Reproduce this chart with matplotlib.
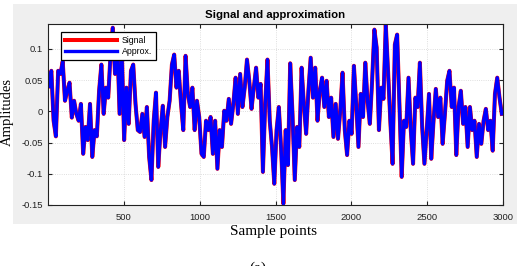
import matplotlib
matplotlib.use("Agg")
import matplotlib.pyplot as plt
import numpy as np
from matplotlib.patches import Rectangle

step = 15
signal = [
    0.040, 0.065, -0.015, -0.040, 0.065, 0.060, 0.080, 0.017, 0.033, 0.046,
    -0.010, 0.017, -0.004, -0.015, 0.012, -0.068, -0.025, -0.046, 0.012, -0.073,
    -0.030, -0.040, 0.033, 0.075, -0.004, 0.038, 0.022, 0.090, 0.134, 0.060,
    0.110, -0.004, 0.095, -0.046,
    0.038, -0.020, 0.065, 0.075, 0.012, -0.030, -0.033, -0.004, -0.041, 0.007,
    -0.073, -0.110, -0.015, 0.030, -0.089, -0.030, 0.009, -0.057, -0.009, 0.017,
    0.075, 0.091, 0.038, 0.065, 0.012, -0.030, 0.089, 0.028, 0.007, 0.038,
    -0.030, 0.017, -0.009, -0.068,
    -0.073, -0.015, -0.030, -0.009, -0.068, -0.015, -0.092, -0.030, -0.057, 0.001,
    -0.015, 0.020, -0.020, 0.012, 0.054, -0.004, 0.060, 0.007, 0.038, 0.083,
    0.049, 0.004, 0.038, 0.070, 0.022, 0.044, -0.097, 0.012, 0.083, -0.015,
    -0.057, -0.116, -0.030, 0.007,
    -0.060, -0.148, -0.030, -0.086, 0.077, -0.004, -0.110, -0.025, -0.057, 0.070,
    0.012, -0.036, 0.033, 0.086, 0.022, 0.070, -0.015, 0.033, 0.054, 0.007,
    0.049, -0.009, 0.022, -0.041, 0.012, -0.044, 0.001, 0.062, -0.030, -0.070,
    -0.015, -0.036, 0.073,
    0.012, -0.057, 0.028, -0.009, 0.078, 0.017, -0.020, 0.049, 0.131, 0.102,
    -0.030, 0.038, 0.020, 0.139, 0.065, -0.015, -0.084, 0.107, 0.123, 0.012,
    -0.105, -0.015, -0.025, 0.054, -0.030, -0.084, 0.022, 0.007, 0.078, -0.025,
    -0.084, -0.030, 0.028,
    -0.076, -0.015, 0.036, -0.009, 0.022, -0.052, -0.004, 0.049, 0.065, 0.007,
    0.038, -0.070, 0.007, 0.033, -0.020, 0.007, -0.057, 0.007, -0.030, -0.015,
    -0.073, -0.020, -0.052, -0.015, 0.004, -0.030, -0.015, -0.063, 0.028, 0.054,
    0.022, -0.004,
]
approx = signal
samples = [step * i + 7 for i in range(len(signal))]

xticks = [500, 1000, 1500, 2000, 2500, 3000]
yticks = [-0.15, -0.1, -0.05, 0, 0.05, 0.1]
yticklabels = ["-0.15", "-0.1", "-0.05", "0", "0.05", "0.1"]

W, H = 517, 266
fig = plt.figure(figsize=(W / 100, H / 100), dpi=100)
fig.patch.set_facecolor("white")
bg = Rectangle((13 / W, 1 - 224 / H), 1 - 13 / W, (224 - 4) / H,
               transform=fig.transFigure, facecolor="#efefef",
               edgecolor="none", zorder=-10)
fig.patches.append(bg)

ax = fig.add_axes([48 / W, 1 - 205 / H, (503 - 48) / W, (205 - 24) / H])
ax.set_zorder(5)
ax.set_facecolor("white")
ax.plot(samples, signal, color="#ff0000", lw=2.9, label="Signal")
ax.plot(samples, approx, color="#0000ff", lw=2.4, label="Approx.")

ax.set_xlim(0, 3000)
ax.set_ylim(-0.15, 0.14)
ax.set_xticks(xticks)
ax.set_xticklabels([str(t) for t in xticks])
ax.set_yticks(yticks)
ax.set_yticklabels(yticklabels)
ax.tick_params(direction="in", length=3, width=0.8, labelsize=6.8,
               colors="#222222", top=True, right=True)
ax.tick_params(axis="x", pad=6)
for lab in ax.get_xticklabels() + ax.get_yticklabels():
    lab.set_fontfamily("Liberation Sans")
ax.grid(True, color="#d4d4d4", linestyle=":", linewidth=0.6)
for s in ax.spines.values():
    s.set_linewidth(0.8)
    s.set_color("#222222")

ax.set_title("Signal and approximation", fontsize=8.2, fontweight="bold",
             family="Liberation Sans", pad=4)

leg = ax.legend(loc="upper left", bbox_to_anchor=(0.028, 0.956),
                borderaxespad=0, handlelength=6.0,
                fancybox=False, framealpha=1, edgecolor="black",
                prop={"family": "Liberation Sans", "size": 6.3},
                borderpad=0.45, labelspacing=0.25, handletextpad=0.5)
leg.get_frame().set_linewidth(0.9)

fig.text(273 / W, 1 - 232 / H, "Sample points", family="Liberation Serif",
         fontsize=11, ha="center", va="center", zorder=6)
fig.text(7 / W, 1 - 112 / H, "Amplitudes", family="Liberation Serif",
         fontsize=10.5, ha="center", va="center", rotation=90, zorder=6)
fig.text(258 / W, 1 - 268 / H, "(a)", family="Liberation Serif",
         fontsize=11, ha="center", va="center", zorder=6)

fig.savefig("out.png", dpi=100)
